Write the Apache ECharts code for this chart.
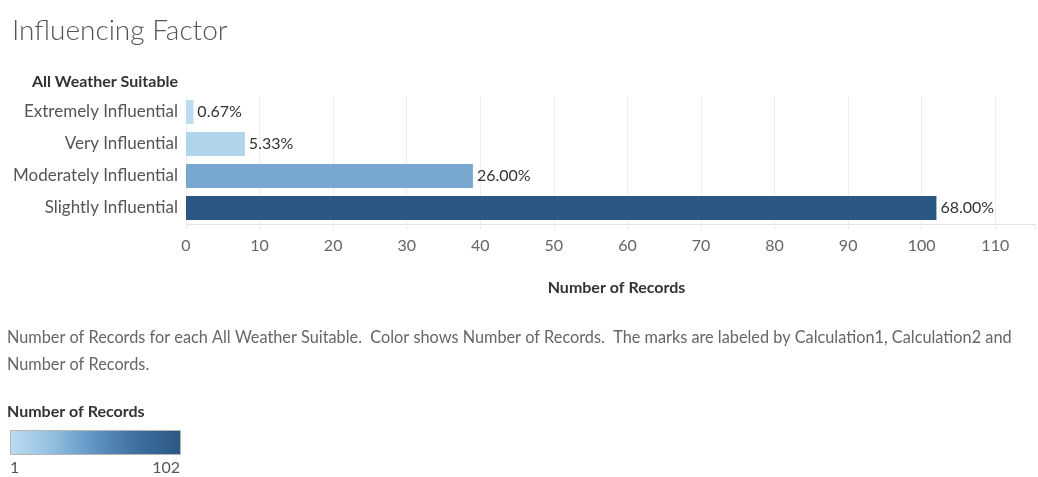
<!DOCTYPE html>
<html>
<head>
<meta charset="utf-8">
<title>Influencing Factor</title>
<script src="https://cdn.jsdelivr.net/npm/echarts@6/dist/echarts.min.js"></script>
<style>
  html, body { margin: 0; padding: 0; background: #ffffff; }
  #chart { width: 1038px; height: 477px; }
</style>
</head>
<body>
<div id="chart"></div>
<script>
// Survey answers: how influential "all weather suitable" is
const categories = ['Extremely Influential', 'Very Influential', 'Moderately Influential', 'Slightly Influential'];
const records = [1, 8, 39, 102];
const shareLabels = ['0.67%', '5.33%', '26.00%', '68.00%'];
const xTicks = [0, 10, 20, 30, 40, 50, 60, 70, 80, 90, 100, 110];

const rampColors = ['#bcdcf0', '#92bfe0', '#5e92c0', '#3f6e9f', '#2a5783'];
const FONT = 'Lato, "Open Sans", sans-serif';
const description = 'Number of Records for each All Weather Suitable.  Color shows Number of Records.  The marks are labeled by Calculation1, Calculation2 and\nNumber of Records.';

const minRec = Math.min.apply(null, records);
const maxRec = Math.max.apply(null, records);

const chart = echarts.init(document.getElementById('chart'), null, { renderer: 'canvas' });

chart.setOption({
  backgroundColor: '#ffffff',
  animation: false,
  title: {
    text: 'Influencing Factor',
    left: 7, top: 12,
    textStyle: { fontFamily: FONT, fontSize: 28, fontWeight: 300, color: '#555555' }
  },
  grid: { left: 186, right: 0, top: 96, height: 128, containLabel: false },
  visualMap: {
    show: false,
    type: 'continuous',
    min: minRec, max: maxRec,
    dimension: 0,
    seriesIndex: 0,
    inRange: { color: rampColors }
  },
  xAxis: {
    type: 'value',
    min: 0, max: 115.4, interval: 10,
    name: 'Number of Records',
    nameLocation: 'middle',
    nameGap: 56,
    nameTextStyle: { fontFamily: FONT, fontSize: 16, fontWeight: 'bold', color: '#333333', padding: [0, 0, 0, 12] },
    axisLine: { show: true, lineStyle: { color: '#e4e4e4' } },
    axisTick: { show: true, length: 5, lineStyle: { color: '#e8e8e8' } },
    axisLabel: {
      margin: 14,
      fontFamily: FONT, fontSize: 16, color: '#666666',
      formatter: function (v) { return xTicks.indexOf(v) >= 0 ? String(v) : ''; }
    },
    splitLine: { show: true, showMaxLine: false, lineStyle: { color: '#eeeeee' } }
  },
  yAxis: {
    type: 'category',
    data: categories,
    inverse: true,
    axisLine: { show: false },
    axisTick: { show: false },
    axisLabel: { margin: 8, fontFamily: FONT, fontSize: 17, color: '#555555' }
  },
  series: [{
    type: 'bar',
    data: records,
    barWidth: 24,
    label: {
      show: true,
      position: 'right',
      distance: 4,
      fontFamily: FONT, fontSize: 16, color: '#333333',
      formatter: function (p) { return shareLabels[p.dataIndex]; }
    }
  }],
  graphic: [
    {
      type: 'text', right: 1038 - 178, top: 74,
      style: { text: 'All Weather Suitable', font: 'bold 16px ' + FONT, fill: '#333333' }
    },
    {
      type: 'text', left: 7, top: 324,
      style: { text: description, font: '16.3px ' + FONT, fill: '#666666', lineHeight: 27 }
    },
    {
      type: 'text', left: 7, top: 404,
      style: { text: 'Number of Records', font: 'bold 16px ' + FONT, fill: '#333333' }
    },
    {
      type: 'rect', left: 10, top: 430,
      shape: { width: 170, height: 24 },
      style: {
        fill: new echarts.graphic.LinearGradient(0, 0, 1, 0,
          rampColors.map(function (c, i) { return { offset: i / (rampColors.length - 1), color: c }; })),
        stroke: '#b5b5b5', lineWidth: 1
      }
    },
    {
      type: 'text', left: 10, top: 460,
      style: { text: String(minRec), font: '16px ' + FONT, fill: '#555555' }
    },
    {
      type: 'text', right: 1038 - 180, top: 460,
      style: { text: String(maxRec), font: '16px ' + FONT, fill: '#555555' }
    }
  ]
});
</script>
</body>
</html>
